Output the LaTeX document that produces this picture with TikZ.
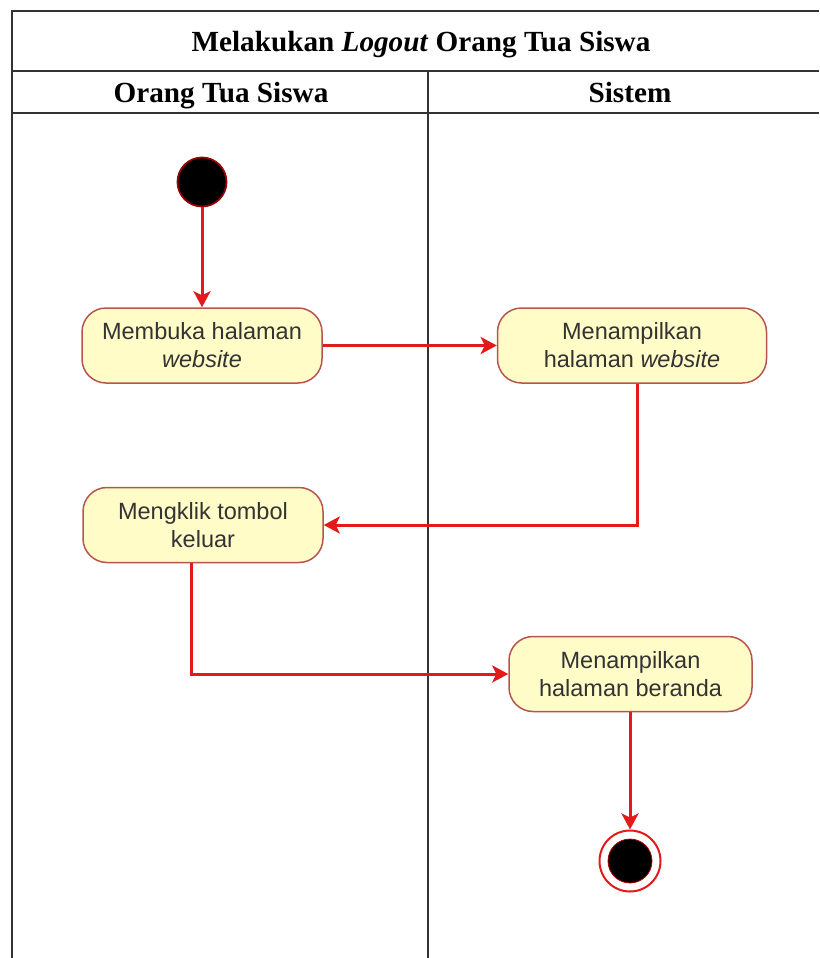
\documentclass[tikz,border=0pt]{standalone}
\usepackage{fontspec}
\setmainfont{Liberation Serif}
\newfontfamily\actfont{Liberation Sans}
\usetikzlibrary{arrows.meta}
\definecolor{actfill}{HTML}{FFFCC8}
\definecolor{actline}{HTML}{B85450}
\definecolor{flowred}{HTML}{E31A1A}
\definecolor{laneline}{HTML}{333333}
\begin{document}
\begin{tikzpicture}[x=1pt,y=-1pt,
  act/.style={draw=actline, fill=actfill, line width=1.5pt, rounded corners=24pt,
    minimum width=240pt, minimum height=75pt, align=center, inner sep=0pt,
    font=\actfont\fontsize{23.5}{28}\selectfont, text=black!80},
  flow/.style={draw=flowred, line width=3pt, -{Stealth[length=16pt,width=17pt,inset=4pt]}},
  lane/.style={line width=1.4pt, draw=laneline},
  hdr/.style={font=\bfseries\fontsize{29.2}{32}\selectfont, anchor=base, inner sep=0pt},
  startnode/.style={circle, fill=black, draw=red!60!black, line width=1.8pt, minimum size=49pt, inner sep=0pt},
  endouter/.style={circle, fill=white, draw=flowred, line width=2pt, minimum size=61pt, inner sep=0pt}
]
\useasboundingbox (0,0) rectangle (819,958);
% frame and lanes
\draw[lane] (12,958) -- (12,11) -- (819,11);
\draw[lane] (12,71) -- (819,71);
\draw[lane] (12,113) -- (819,113);
\draw[lane] (428,71) -- (428,958);
\node[hdr] (title) at (421,52) {Melakukan \textit{Logout} Orang Tua Siswa};
\node[hdr] (lane1) at (221,102) {Orang Tua Siswa};
\node[hdr] (lane2) at (630,102) {Sistem};
% nodes
\node[startnode] (start) at (202,182) {};
\node[act] (n1) at (202,345.5) {Membuka halaman\\\textit{website}};
\node[act, minimum width=269pt] (n2) at (632,345.5) {Menampilkan\\halaman \textit{website}};
\node[act] (n3) at (203,525) {Mengklik tombol\\keluar};
\node[act, minimum width=243pt] (n4) at (630.5,674) {Menampilkan\\halaman beranda};
\node[endouter] (end) at (630,861) {};
\node[circle, fill=black, draw=red!70!black, line width=0.8pt, minimum size=44pt, inner sep=0pt] (endin) at (end) {};
% flows
\draw[flow] (start) -- (n1);
\draw[flow] (n1) -- (n2);
\draw[flow] ([xshift=5pt]n2.south) |- (n3.east);
\draw[flow] ([xshift=-12pt]n3.south) |- (n4.west);
\draw[flow] ([xshift=-0.5pt]n4.south) -- (end);
\end{tikzpicture}
\end{document}
